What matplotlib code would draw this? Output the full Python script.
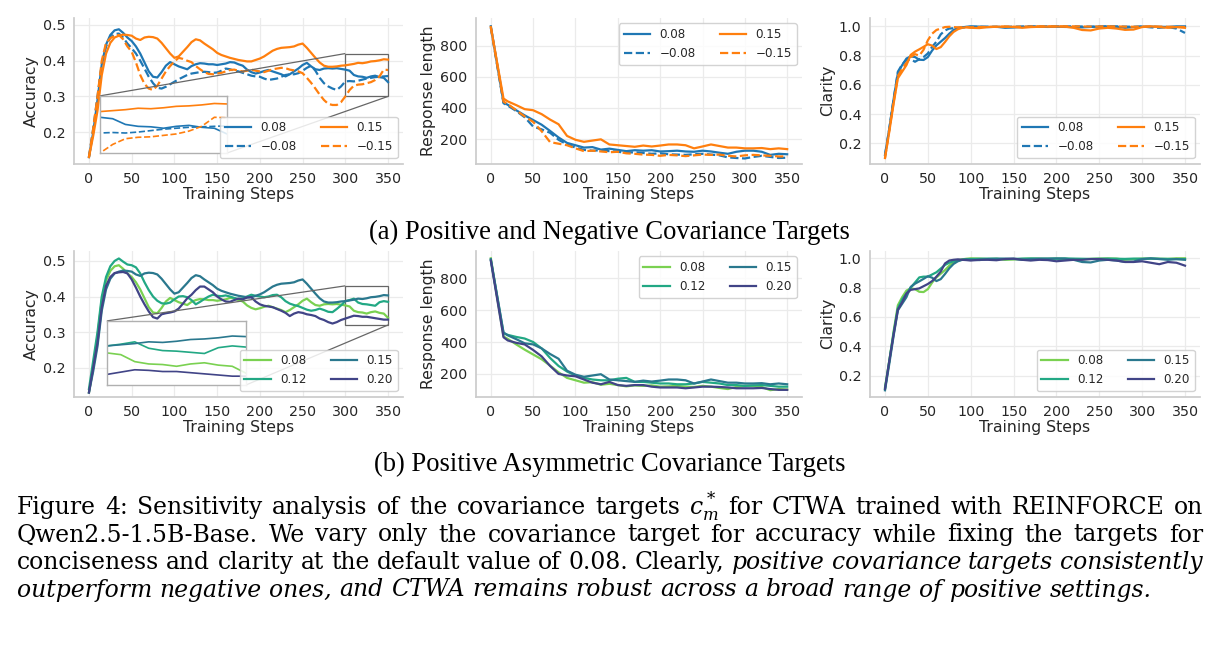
import matplotlib
matplotlib.use("Agg")
import matplotlib.pyplot as plt
from mpl_toolkits.axes_grid1.inset_locator import mark_inset

# ---------------- data ----------------
steps_acc = list(range(0, 351, 5))
steps_len = [0, 15] + list(range(20, 351, 10))
steps_clr = list(range(0, 101, 5)) + list(range(110, 351, 10))

labels_a = ["0.08", "\u22120.08", "0.15", "\u22120.15"]
labels_b = ["0.08", "0.12", "0.15", "0.20"]
colors_a = ["#1f77b4", "#1f77b4", "#ff7f0e", "#ff7f0e"]
styles_a = ["-", "--", "-", "--"]
colors_b = ["#7ad151", "#22a884", "#2a788e", "#414487"]

acc_a_p08 = [.13, .20, .29, .39, .445, .472, .485, .488, .478, .465,
             .455, .44, .42, .395, .37, .355, .353, .368, .386, .396,
             .39, .384, .38, .376, .385, .39, .393, .392, .39, .39,
             .388, .39, .392, .396, .395, .39, .386, .375, .368, .364,
             .367, .371, .374, .37, .366, .362, .356, .362, .37, .378,
             .388, .394, .384, .376, .374, .378, .379, .378, .379, .377,
             .375, .372, .36, .356, .355, .352, .356, .358, .354, .352,
             .34]
acc_a_m08 = [.13, .21, .30, .39, .44, .465, .475, .476, .465, .448,
             .435, .42, .40, .378, .355, .337, .324, .322, .327, .334,
             .341, .348, .354, .36, .364, .366, .368, .369, .368, .366,
             .367, .372, .378, .376, .372, .37, .366, .362, .358, .356,
             .355, .35, .346, .348, .35, .355, .36, .362, .362, .365,
             .372, .38, .386, .372, .352, .337, .328, .322, .318, .328,
             .342, .343, .342, .344, .347, .35, .352, .354, .355, .356,
             .357]
acc_a_p15 = [.13, .19, .26, .36, .42, .45, .465, .47, .473, .472,
             .47, .462, .458, .465, .467, .466, .462, .45, .435, .42,
             .408, .412, .425, .438, .452, .46, .457, .448, .44, .432,
             .422, .416, .412, .408, .405, .402, .40, .398, .398, .402,
             .406, .412, .42, .428, .433, .436, .437, .438, .44, .445,
             .448, .436, .422, .408, .395, .386, .383, .383, .384, .386,
             .387, .389, .391, .394, .393, .395, .398, .399, .401, .404,
             .403]
acc_a_m15 = [.13, .21, .30, .40, .45, .463, .47, .472, .46, .44,
             .425, .395, .36, .335, .322, .318, .33, .35, .37, .385,
             .398, .408, .405, .40, .396, .385, .376, .368, .363, .362,
             .364, .366, .37, .374, .375, .372, .37, .372, .375, .372,
             .37, .368, .372, .376, .378, .38, .379, .375, .373, .37,
             .365, .352, .338, .322, .305, .29, .279, .276, .276, .284,
             .30, .318, .33, .333, .334, .337, .34, .346, .356, .375,
             .374]
acc_b_08 = acc_a_p08
acc_b_15 = acc_a_p15
acc_b_12 = [.14, .22, .30, .40, .455, .485, .50, .507, .498, .49,
            .488, .482, .465, .44, .418, .40, .388, .381, .38, .383,
            .392, .40, .401, .398, .39, .378, .385, .393, .40, .405,
            .402, .401, .403, .40, .396, .393, .395, .40, .405, .402,
            .40, .398, .40, .404, .405, .398, .387, .38, .376, .373,
            .368, .363, .36, .362, .366, .362, .357, .356, .365, .375,
            .387, .39, .394, .383, .379, .378, .376, .374, .384, .387,
            .385]
acc_b_20 = [.13, .20, .27, .37, .43, .455, .466, .468, .469, .465,
            .448, .425, .40, .378, .358, .342, .338, .35, .353, .355,
            .358, .366, .38, .395, .405, .418, .428, .428, .42, .412,
            .40, .392, .386, .385, .39, .394, .392, .397, .398, .386,
            .378, .374, .372, .37, .365, .36, .354, .345, .352, .356,
            .354, .35, .348, .345, .338, .334, .328, .324, .328, .334,
            .338, .342, .346, .345, .343, .343, .341, .339, .337, .335,
            .335]

len_a_p08 = [925, 435, 420, 385, 352, 322, 292, 252, 210, 175, 160,
             145, 148, 132, 138, 130, 122, 128, 125, 128, 120, 122, 125, 120,
             118, 125, 120, 112, 105, 118, 125, 125, 118, 98, 105, 102]
len_a_m08 = [915, 430, 415, 380, 340, 280, 262, 240, 195, 165, 145,
             130, 125, 128, 122, 118, 112, 115, 110, 105, 108, 102, 100, 98,
             102, 105, 100, 95, 82, 78, 75, 85, 92, 85, 78, 80]
len_a_p15 = [920, 460, 442, 418, 392, 385, 360, 325, 295, 220, 195,
             182, 190, 198, 165, 160, 155, 150, 158, 152, 158, 165, 165, 160,
             140, 152, 165, 155, 145, 145, 140, 140, 142, 135, 140, 135]
len_a_m15 = [920, 440, 425, 385, 345, 310, 250, 180, 170, 160, 140,
             122, 125, 120, 115, 118, 108, 105, 100, 98, 92, 98, 95, 90,
             95, 100, 98, 100, 92, 88, 95, 98, 95, 92, 88, 88]
len_b_08 = len_a_p08
len_b_15 = len_a_p15
len_b_12 = [915, 455, 445, 432, 422, 400, 360, 300, 250, 215, 190,
            175, 165, 160, 160, 170, 175, 150, 150, 145, 140, 140, 135, 135,
            140, 150, 145, 140, 130, 130, 125, 128, 130, 125, 120, 120]
len_b_20 = [910, 430, 410, 395, 385, 350, 310, 250, 200, 190, 185,
            165, 145, 135, 150, 130, 125, 130, 130, 120, 115, 115, 115, 110,
            115, 120, 120, 118, 115, 110, 110, 110, 112, 105, 100, 100]

clr_a_p08 = [.12, .30, .50, .68, .735, .78, .795, .79, .772, .77, .79, .835, .87, .895, .92,
             .95, .975, .988, .993, .997, 1.0,
             .998, .995, .997, .99, .992, .996, .998, .997, .996, .997, .996, .995, .993,
             .996, .998, .999, .998, .99, .995, .998, .998, .997, .996, 1.0, 1.0]
clr_a_m08 = [.12, .30, .50, .69, .74, .77, .775, .758, .775, .79, .815, .86, .895, .945, .972,
             .985, .987, .99, .992, .995, .996,
             .997, .998, .996, .997, .998, .999, 1.0, .999, 1.0, 1.0, .999, 1.0, .999,
             .998, .999, 1.0, .999, .998, .997, .999, .993, .99, .995, .985, .955]
clr_a_p15 = [.10, .28, .47, .645, .69, .735, .805, .827, .843, .86, .878, .868, .845, .858, .893,
             .932, .962, .98, .99, .993, .99,
             .988, .995, .997, .998, .996, .99, .995, .997, .998, .999, .998, .99, .975,
             .972, .985, .99, .985, .976, .978, .995, 1.0, .995, .99, .995, .99]
clr_a_m15 = [.10, .29, .48, .66, .71, .75, .79, .81, .80, .84, .905, .95, .975, .985, .995,
             .997, .995, .993, .994, .995, .993,
             .995, .996, .997, .998, .997, .998, .999, 1.0, 1.0, .999, 1.0, 1.0, .999,
             .998, .999, 1.0, .999, .998, .997, .998, .999, .998, .997, .996, .995]
clr_b_08 = clr_a_p08
clr_b_15 = clr_a_p15
clr_b_12 = [.11, .30, .49, .66, .72, .76, .80, .835, .87, .875, .875, .89, .905, .93, .955,
            .97, .98, .985, .99, .993, .995,
            .997, .998, .997, .995, .996, .998, .999, .998, .997, .998, .999, .998, .997,
            .996, .997, .998, .997, .996, .998, .997, .998, .997, .996, .995, .995]
clr_b_20 = [.11, .30, .48, .65, .70, .76, .785, .79, .795, .81, .825, .845, .875, .91, .965,
            .985, .99, .993, .99, .988, .985,
            .99, .99, .987, .995, .998, .99, .985, .99, .988, .98, .985, .99, .99,
            .995, .995, .99, .985, .975, .975, .98, .97, .96, .975, .97, .95]

sub_a = "(a) Positive and Negative Covariance Targets"
sub_b = "(b) Positive Asymmetric Covariance Targets"
caption_lines = [
    [("Figure 4: Sensitivity analysis of the covariance targets", "normal"),
     ("$c_m^*$", "math"),
     ("for CTWA trained with REINFORCE on", "normal")],
    [("Qwen2.5-1.5B-Base.  We vary only the covariance target for accuracy while fixing the targets for", "normal")],
    [("conciseness and clarity at the default value of 0.08. Clearly,", "normal"),
     ("positive covariance targets consistently", "italic")],
    [("outperform negative ones, and CTWA remains robust across a broad range of positive settings.", "italic")],
]

# ---------------- figure ----------------
plt.rcParams["font.family"] = ["DejaVu Sans"]
plt.rcParams["mathtext.fontset"] = "dejavuserif"
W, H = 1219, 645
fig = plt.figure(figsize=(W / 100, H / 100), dpi=100)
TXT = "#262626"
SERIF_SUB = "Liberation Serif"
SERIF_CAP = "DejaVu Serif"


def add_ax(left, top, w, h):
    return fig.add_axes([left / W, 1 - (top + h) / H, w / W, h / H])


def style(ax, ylabel, ylim, yticks):
    ax.set_facecolor("white")
    for s in ["top", "right"]:
        ax.spines[s].set_visible(False)
    for s in ["left", "bottom"]:
        ax.spines[s].set_color("#cccccc")
        ax.spines[s].set_linewidth(1.25)
    ax.grid(True, color="#ebebeb", linewidth=0.9)
    ax.set_axisbelow(True)
    ax.tick_params(length=0, labelsize=10.3, colors=TXT, pad=6)
    ax.set_xlim(-17.5, 367.5)
    ax.set_xticks(range(0, 351, 50))
    ax.set_ylim(*ylim)
    ax.set_yticks(yticks)
    ax.set_xlabel("Training Steps", fontsize=11.3, color=TXT, labelpad=1)
    ax.set_ylabel(ylabel, fontsize=11.3, color=TXT, labelpad=3)


def legend(ax, loc):
    lg = ax.legend(ncol=2, loc=loc, fontsize=8.6, frameon=True, framealpha=0.85,
                   edgecolor="#cccccc", fancybox=True, handlelength=2.2,
                   borderaxespad=0.45)
    for t in lg.get_texts():
        t.set_color(TXT)
    lg.set_zorder(6)


LW = 1.6
rows = [18, 251]
lefts = [74, 476, 870]
widths = [329, 326, 330]
hgt = 145.6

# ---------- row (a) ----------
ax1 = add_ax(lefts[0], rows[0], widths[0], hgt)
series_a_acc = [acc_a_p08, acc_a_m08, acc_a_p15, acc_a_m15]
for y, c, ls, lb in zip(series_a_acc, colors_a, styles_a, labels_a):
    ax1.plot(steps_acc, y, color=c, ls=ls, lw=LW, label=lb)
style(ax1, "Accuracy", (0.1118, 0.5196), [0.2, 0.3, 0.4, 0.5])
legend(ax1, "lower right")
ins1 = ax1.inset_axes([12.9, 0.1415, 148.7, 0.16], transform=ax1.transData)
for y, c, ls in zip(series_a_acc, colors_a, styles_a):
    ins1.plot(steps_acc, y, color=c, ls=ls, lw=1.2)
ins1.set_xlim(300, 350)
ins1.set_ylim(0.30, 0.42)
ins1.set_xticks([])
ins1.set_yticks([])
for sp in ins1.spines.values():
    sp.set_color("#b0b0b0")
    sp.set_linewidth(1.0)
mark_inset(ax1, ins1, loc1=2, loc2=4, fc="none", ec="#666666", lw=0.9)

ax2 = add_ax(lefts[1], rows[0], widths[1], hgt)
for y, c, ls, lb in zip([len_a_p08, len_a_m08, len_a_p15, len_a_m15], colors_a, styles_a, labels_a):
    ax2.plot(steps_len, y, color=c, ls=ls, lw=LW, label=lb)
style(ax2, "Response length", (42, 978), [200, 400, 600, 800])
legend(ax2, "upper right")

ax3 = add_ax(lefts[2], rows[0], widths[2], hgt)
for y, c, ls, lb in zip([clr_a_p08, clr_a_m08, clr_a_p15, clr_a_m15], colors_a, styles_a, labels_a):
    ax3.plot(steps_clr, y, color=c, ls=ls, lw=LW, label=lb)
style(ax3, "Clarity", (0.062, 1.057), [0.2, 0.4, 0.6, 0.8, 1.0])
legend(ax3, "lower right")

# ---------- row (b) ----------
ax4 = add_ax(lefts[0], rows[1], widths[0], hgt)
series_b_acc = [acc_b_08, acc_b_12, acc_b_15, acc_b_20]
for y, c, lb in zip(series_b_acc, colors_b, labels_b):
    ax4.plot(steps_acc, y, color=c, lw=LW, label=lb)
style(ax4, "Accuracy", (0.1185, 0.528), [0.2, 0.3, 0.4, 0.5])
legend(ax4, "lower right")
ins4 = ax4.inset_axes([21, 0.1514, 163, 0.18], transform=ax4.transData)
for y, c in zip(series_b_acc, colors_b):
    ins4.plot(steps_acc, y, color=c, lw=1.2)
ins4.set_xlim(300, 350)
ins4.set_ylim(0.32, 0.43)
ins4.set_xticks([])
ins4.set_yticks([])
for sp in ins4.spines.values():
    sp.set_color("#b0b0b0")
    sp.set_linewidth(1.0)
mark_inset(ax4, ins4, loc1=2, loc2=4, fc="none", ec="#666666", lw=0.9)

ax5 = add_ax(lefts[1], rows[1], widths[1], hgt)
for y, c, lb in zip([len_b_08, len_b_12, len_b_15, len_b_20], colors_b, labels_b):
    ax5.plot(steps_len, y, color=c, lw=LW, label=lb)
style(ax5, "Response length", (57.7, 971), [200, 400, 600, 800])
legend(ax5, "upper right")

ax6 = add_ax(lefts[2], rows[1], widths[2], hgt)
for y, c, lb in zip([clr_b_08, clr_b_12, clr_b_15, clr_b_20], colors_b, labels_b):
    ax6.plot(steps_clr, y, color=c, lw=LW, label=lb)
style(ax6, "Clarity", (0.057, 1.05), [0.2, 0.4, 0.6, 0.8, 1.0])
legend(ax6, "lower right")

# ---------- captions ----------
fig.canvas.draw()
R = fig.canvas.get_renderer()


def measure(s, kind, size, family):
    kw = dict(fontsize=size, family=family)
    if kind == "italic":
        kw["style"] = "italic"
    t = fig.text(0, 0, s, **kw)
    w = t.get_window_extent(renderer=R).width
    t.remove()
    return w


# sub-captions: size fitted to the measured width in the reference
w10 = measure(sub_a, "normal", 10, SERIF_SUB)
fs_sub = 10 * 483 / w10
fig.text(609 / W, 1 - 232 / H, sub_a, ha="center", va="center", family=SERIF_SUB,
         fontsize=fs_sub, color="black")
fig.text(610 / W, 1 - 464 / H, sub_b, ha="center", va="center", family=SERIF_SUB,
         fontsize=fs_sub, color="black")


def split_words(segs):
    words = []
    for txt, kind in segs:
        if kind == "math":
            words.append((txt, kind))
        else:
            words.extend((w, kind) for w in txt.split())
    return words


X0, X1 = 17, 1203
# caption font size: last (ragged) line ends near x=1152
w10 = measure(caption_lines[3][0][0], "italic", 10, SERIF_CAP)
fs_cap = 10 * 1135 / w10
sp10 = measure("x x", "normal", 10, SERIF_CAP) - measure("xx", "normal", 10, SERIF_CAP)
for segs in caption_lines[:3]:
    words = split_words(segs)
    tot = sum(measure(w, k, 10, SERIF_CAP) for w, k in words) + 0.75 * sp10 * (len(words) - 1)
    fs_cap = min(fs_cap, 10 * (X1 - X0) / tot)

baselines = [514, 541.5, 569, 596.5]
space = measure("x x", "normal", fs_cap, SERIF_CAP) - measure("xx", "normal", fs_cap, SERIF_CAP)

for i, segs in enumerate(caption_lines):
    words = split_words(segs)
    ws = [measure(w, k, fs_cap, SERIF_CAP) for w, k in words]
    justify = i < len(caption_lines) - 1
    gap = (X1 - X0 - sum(ws)) / (len(words) - 1) if justify else space
    x = X0
    for (w, k), wd in zip(words, ws):
        kw = dict(fontsize=fs_cap, family=SERIF_CAP, color="black", ha="left", va="baseline")
        if k == "italic":
            kw["style"] = "italic"
        fig.text(x / W, 1 - baselines[i] / H, w, **kw)
        x += wd + gap

fig.savefig("out.png", dpi=100, facecolor="white")
